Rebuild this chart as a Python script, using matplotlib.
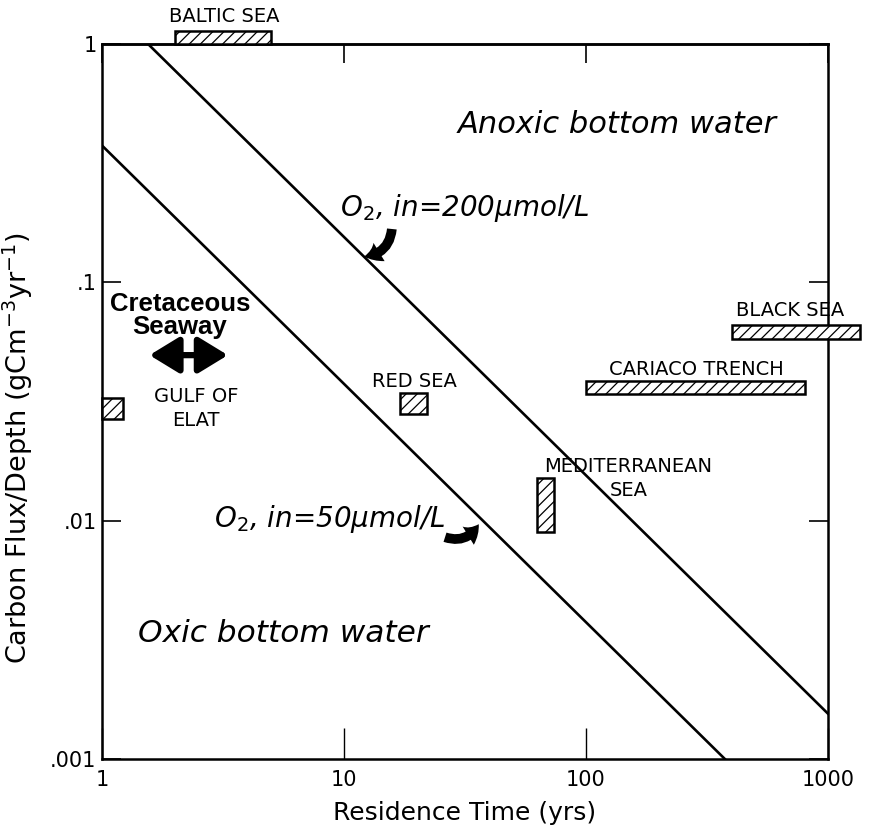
import numpy as np
import matplotlib.pyplot as plt
from matplotlib.patches import Rectangle, FancyArrowPatch
from matplotlib.ticker import FixedLocator, FixedFormatter, NullLocator

# critical-flux lines (straight on log-log, given by their end points)
line200_t = [1.55, 1000]
line200_flux = [1.0, 0.00155]
line50_t = [1.0, 375]
line50_flux = [0.375, 0.001]

# basins: residence time range (yrs) and carbon flux/depth range
basins = ['BALTIC SEA', 'BLACK SEA', 'CARIACO TRENCH', 'RED SEA',
          'MEDITERRANEAN\nSEA', 'GULF OF\nELAT']
t_lo = [2.0, 400, 100, 17, 63, 1.0]
t_hi = [5.0, 1350, 800, 22, 74, 1.22]
f_lo = [1.0, 0.058, 0.034, 0.028, 0.009, 0.0267]
f_hi = [1.13, 0.066, 0.0385, 0.0343, 0.0151, 0.0327]

xticks = [1, 10, 100, 1000]
xlabels = ['1', '10', '100', '1000']
yticks = [0.001, 0.01, 0.1, 1]
ylabels = ['.001', '.01', '.1', '1']

plt.rcParams['font.family'] = ['DejaVu Sans']
plt.rcParams['hatch.linewidth'] = 0.9

fig = plt.figure(figsize=(8.69, 8.32), dpi=100)
ax = fig.add_axes([0.1174, 0.0877, 0.8354, 0.8594])
ax.set_xscale('log')
ax.set_yscale('log')
ax.set_xlim(1, 1000)
ax.set_ylim(0.001, 1)

for s in ax.spines.values():
    s.set_linewidth(1.8)

ax.xaxis.set_major_locator(FixedLocator(xticks))
ax.xaxis.set_major_formatter(FixedFormatter(xlabels))
ax.yaxis.set_major_locator(FixedLocator(yticks))
ax.yaxis.set_major_formatter(FixedFormatter(ylabels))
ax.xaxis.set_minor_locator(NullLocator())
ax.yaxis.set_minor_locator(NullLocator())
ax.tick_params(axis='x', direction='in', length=22, width=1.0, labelsize=15, pad=8)
ax.tick_params(axis='y', direction='in', length=14, width=1.2, labelsize=15,
               right=True, pad=4)

top = ax.secondary_xaxis('top')
top.set_xticks(xticks)
top.xaxis.set_minor_locator(NullLocator())
top.tick_params(direction='in', length=14, width=1.2, labeltop=False)
top.spines['top'].set_linewidth(1.8)

# O2 lines
ax.plot(line200_t, line200_flux, color='black', lw=1.9)
ax.plot(line50_t, line50_flux, color='black', lw=1.9)

# hatched basin boxes
for lo, hi, flo, fhi in zip(t_lo, t_hi, f_lo, f_hi):
    r = Rectangle((lo, flo), hi - lo, fhi - flo, facecolor='white',
                  edgecolor='black', hatch='///', lw=1.8, clip_on=False, zorder=5)
    ax.add_patch(r)

lettering = dict(fontsize=14, color='black', zorder=6)
ax.text(3.2, 1.3, basins[0], ha='center', va='center', **lettering)
ax.text(700, 0.076, basins[1], ha='center', va='center', **lettering)
ax.text(285, 0.0432, basins[2], ha='center', va='center', **lettering)
ax.text(19.5, 0.0385, basins[3], ha='center', va='center', **lettering)
ax.text(150, 0.0150, basins[4], ha='center', va='center',
        multialignment='center', linespacing=1.3, **lettering)
ax.text(2.45, 0.0295, basins[5], ha='center', va='center',
        multialignment='center', linespacing=1.3, **lettering)

# Cretaceous Seaway range
ax.text(2.1, 0.0725, 'Cretaceous\nSeaway', ha='center', va='center',
        family=['Liberation Sans', 'DejaVu Sans'], fontweight='bold',
        fontsize=18.5, linespacing=0.92)
ax.add_patch(FancyArrowPatch((1.53, 0.0495), (3.4, 0.0495),
                             arrowstyle='<|-|>,head_length=0.9,head_width=0.55',
                             mutation_scale=20, lw=4.5, color='black'))

# regime labels
ax.text(134, 0.46, 'Anoxic bottom water', ha='center', va='center',
        fontsize=22, style='italic')
ax.text(5.6, 0.00337, 'Oxic bottom water', ha='center', va='center',
        fontsize=22.5, style='italic')

ax.text(9.6, 0.205, r'O$_2$, in=200$\mu$mol/L', ha='left', va='center',
        fontsize=20, style='italic')
ax.text(2.9, 0.0102, r'O$_2$, in=50$\mu$mol/L', ha='left', va='center',
        fontsize=20, style='italic')

curl = dict(arrowstyle='simple,head_length=0.8,head_width=1.1,tail_width=0.5',
            mutation_scale=14, color='black', lw=0)
ax.add_patch(FancyArrowPatch((15.8, 0.172), (11.8, 0.128),
                             connectionstyle='arc3,rad=-0.45', **curl))
ax.add_patch(FancyArrowPatch((25.5, 0.0086), (36.5, 0.0099),
                             connectionstyle='arc3,rad=0.45', **curl))

ax.set_xlabel('Residence Time (yrs)', fontsize=18, labelpad=8)
ax.set_ylabel('Carbon Flux/Depth (gCm$^{-3}$yr$^{-1}$)', fontsize=19.5)
ax.yaxis.set_label_coords(-0.092, 0.435)

fig.savefig('out.png', dpi=100)
